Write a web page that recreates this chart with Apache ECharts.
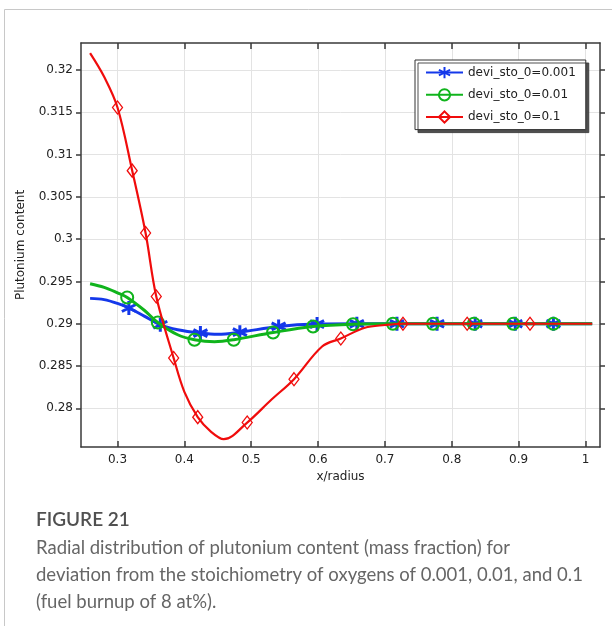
<!DOCTYPE html>
<html>
<head>
<meta charset="utf-8">
<script src="https://cdn.jsdelivr.net/npm/echarts@6/dist/echarts.min.js"></script>
<style>
html,body{margin:0;padding:0;background:#fff;}
#c{width:612px;height:626px;}
</style>
</head>
<body>
<div id="c"></div>
<script>
// ---- data ----
const xTicks = [0.3, 0.4, 0.5, 0.6, 0.7, 0.8, 0.9, 1.0];
const yTicks = [0.28, 0.285, 0.29, 0.295, 0.3, 0.305, 0.31, 0.315, 0.32];

const seriesNames = ['devi_sto_0=0.001', 'devi_sto_0=0.01', 'devi_sto_0=0.1'];

// curve points (x/radius, Pu content); M = 1 marks a marker point
const blueX = [0.259, 0.28, 0.30, 0.317, 0.34, 0.364, 0.39, 0.424, 0.45, 0.483, 0.541, 0.5985, 0.658, 0.718, 0.778, 0.835, 0.895, 0.952, 1.01];
const blueY = [0.2930, 0.29285, 0.2924, 0.29186, 0.2909, 0.28988, 0.2893, 0.2889, 0.28875, 0.2890, 0.28968, 0.28996, 0.2900, 0.2900, 0.2900, 0.2900, 0.2900, 0.2900, 0.2900];
const blueM = [0, 0, 0, 1, 0, 1, 0, 1, 0, 1, 1, 1, 1, 1, 1, 1, 1, 1, 0];

const greenX = [0.259, 0.28, 0.30, 0.3145, 0.34, 0.3603, 0.39, 0.4151, 0.445, 0.4739, 0.5327, 0.5925, 0.6523, 0.712, 0.772, 0.833, 0.892, 0.952, 1.01];
const greenY = [0.29473, 0.2943, 0.29365, 0.29311, 0.2916, 0.29015, 0.2887, 0.28811, 0.28787, 0.28811, 0.28897, 0.28968, 0.28995, 0.2900, 0.2900, 0.2900, 0.2900, 0.2900, 0.2900];
const greenM = [0, 0, 0, 1, 0, 1, 0, 1, 0, 1, 1, 1, 1, 1, 1, 1, 1, 1, 0];

const redX = [0.259, 0.28, 0.30, 0.322, 0.342, 0.358, 0.384, 0.40, 0.42, 0.44, 0.459, 0.494, 0.53, 0.564, 0.606, 0.634, 0.67, 0.70, 0.727, 0.823, 0.917, 1.01];
const redY = [0.3220, 0.3192, 0.31556, 0.3081, 0.30073, 0.29323, 0.28594, 0.28195, 0.27896, 0.27722, 0.27635, 0.27832, 0.28101, 0.28345, 0.28731, 0.28826, 0.28953, 0.28985, 0.2900, 0.2900, 0.2900, 0.2900];
const redM = [0, 0, 1, 1, 1, 1, 1, 0, 1, 0, 0, 1, 0, 1, 0, 1, 0, 0, 1, 1, 1, 0];

const captionTitle = 'FIGURE 21';
const captionLines = [
  'Radial distribution of plutonium content (mass fraction) for',
  'deviation from the stoichiometry of oxygens of 0.001, 0.01, and 0.1',
  '(fuel burnup of 8 at%).'
];

// ---- build ----
function build(xs, ys, ms) {
  return xs.map((x, i) => ms[i] ? [x, ys[i]] : { value: [x, ys[i]], symbol: 'none' });
}
const BLUE = '#1438ea', GREEN = '#10b41c', RED = '#f00c0c';
const asterisk = 'path://M5,0L5,10M0.67,2.5L9.33,7.5M0.67,7.5L9.33,2.5';
const FONT = 'DejaVu Sans';

const chart = echarts.init(document.getElementById('c'), null, { renderer: 'canvas' });

const axisLineStyle = { color: '#3a3a3a', width: 1.5 };
const xMin = 0.2454, xMax = 1.0217, yMin = 0.27543, yMax = 0.32319;

chart.setOption({
  animation: false,
  backgroundColor: '#fff',
  grid: { left: 81, top: 43, right: 12, bottom: 179, containLabel: false },
  legend: {
    orient: 'vertical',
    left: 415, top: 60,
    padding: [6, 10, 6, 10],
    itemWidth: 37, itemHeight: 14, itemGap: 9,
    backgroundColor: '#fff',
    borderColor: '#333', borderWidth: 1,
    shadowColor: 'rgba(60,60,60,0.9)', shadowOffsetX: 3, shadowOffsetY: 3, shadowBlur: 0,
    textStyle: { fontFamily: FONT, fontSize: 12, color: '#222' },
    data: seriesNames
  },
  xAxis: [{
    type: 'value', min: xMin, max: xMax, position: 'bottom',
    name: 'x/radius', nameLocation: 'middle', nameGap: 23,
    nameTextStyle: { fontFamily: FONT, fontSize: 12, color: '#222' },
    axisLine: { show: true, lineStyle: axisLineStyle },
    axisTick: { show: true, inside: true, length: 6, customValues: xTicks, lineStyle: axisLineStyle },
    axisLabel: { customValues: xTicks, fontFamily: FONT, fontSize: 12, color: '#222', margin: 7 },
    splitLine: { show: true, customValues: xTicks, lineStyle: { color: '#e3e3e3', width: 1 } }
  }, {
    type: 'value', min: xMin, max: xMax, position: 'top',
    axisLine: { show: true, lineStyle: axisLineStyle },
    axisTick: { show: true, inside: true, length: 6, customValues: xTicks, lineStyle: axisLineStyle },
    axisLabel: { show: false },
    splitLine: { show: false }
  }],
  yAxis: [{
    type: 'value', min: yMin, max: yMax, position: 'left',
    name: 'Plutonium content', nameLocation: 'middle', nameGap: 54, nameRotate: 90,
    nameTextStyle: { fontFamily: FONT, fontSize: 12, color: '#222' },
    axisLine: { show: true, lineStyle: axisLineStyle },
    axisTick: { show: true, inside: false, length: 5, customValues: yTicks, lineStyle: axisLineStyle },
    axisLabel: { customValues: yTicks, fontFamily: FONT, fontSize: 12, color: '#222', margin: 8,
      formatter: v => String(+v.toFixed(4)) },
    splitLine: { show: true, customValues: yTicks, lineStyle: { color: '#e3e3e3', width: 1 } }
  }, {
    type: 'value', min: yMin, max: yMax, position: 'right',
    axisLine: { show: true, lineStyle: axisLineStyle },
    axisTick: { show: true, inside: false, length: 5, customValues: yTicks, lineStyle: axisLineStyle },
    axisLabel: { show: false },
    splitLine: { show: false }
  }],
  series: [{
    name: seriesNames[0], type: 'line', smooth: 0.35,
    data: build(blueX, blueY, blueM),
    symbol: asterisk, symbolSize: 14, showSymbol: true, showAllSymbol: true,
    lineStyle: { color: BLUE, width: 3 },
    itemStyle: { color: BLUE, borderColor: BLUE, borderWidth: 3 },
    z: 2
  }, {
    name: seriesNames[1], type: 'line', smooth: 0.35,
    data: build(greenX, greenY, greenM),
    symbol: 'circle', symbolSize: 12, showSymbol: true, showAllSymbol: true,
    lineStyle: { color: GREEN, width: 3 },
    itemStyle: { color: 'rgba(255,255,255,0)', borderColor: GREEN, borderWidth: 2 },
    z: 3
  }, {
    name: seriesNames[2], type: 'line', smooth: 0.35,
    data: build(redX, redY, redM),
    symbol: 'diamond', symbolSize: [10, 13], showSymbol: true, showAllSymbol: true,
    lineStyle: { color: RED, width: 2.2 },
    itemStyle: { color: 'rgba(255,255,255,0)', borderColor: RED, borderWidth: 1.3 },
    z: 4
  }],
  graphic: [
    { type: 'rect', shape: { x: 4.5, y: 9.5, width: 640, height: 640 },
      style: { fill: 'none', stroke: '#c8c8c8', lineWidth: 1 }, silent: true },
    { type: 'text', x: 36, y: 520,
      style: { text: captionTitle, font: '600 19px Lato', fill: '#505050', verticalAlign: 'middle' } },
    { type: 'text', x: 36, y: 548,
      style: { text: captionLines[0], font: '18.5px Lato', fill: '#666', verticalAlign: 'middle' } },
    { type: 'text', x: 36, y: 575,
      style: { text: captionLines[1], font: '18.5px Lato', fill: '#666', verticalAlign: 'middle' } },
    { type: 'text', x: 36, y: 602,
      style: { text: captionLines[2], font: '18.5px Lato', fill: '#666', verticalAlign: 'middle' } }
  ]
});
</script>
</body>
</html>
